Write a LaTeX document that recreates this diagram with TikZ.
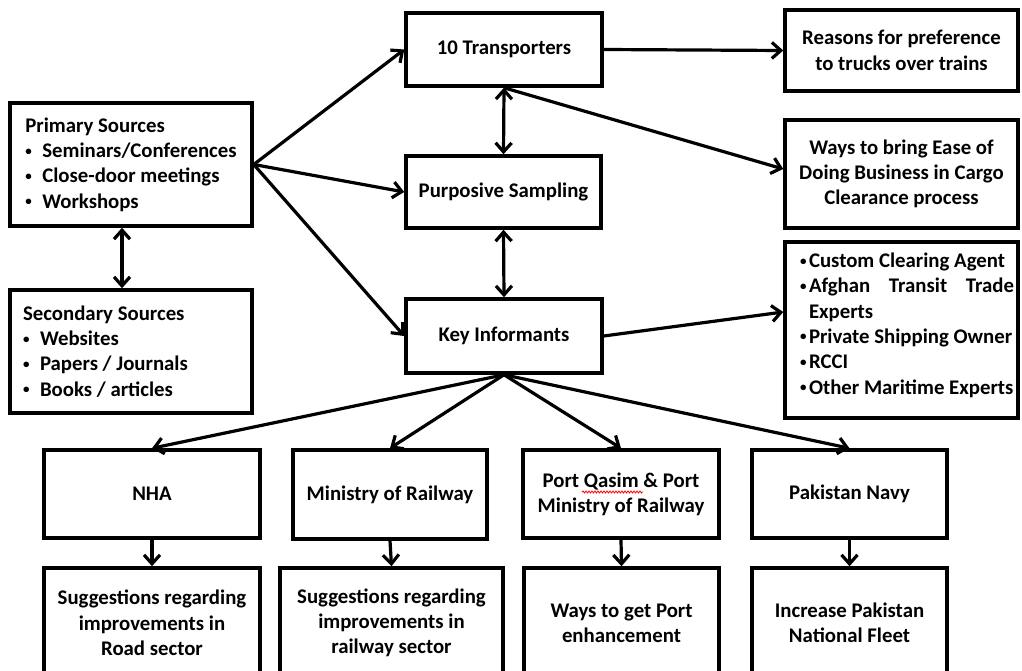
\documentclass[tikz,border=0pt]{standalone}
\usepackage{fontspec}
\setmainfont{Carlito}
\usetikzlibrary{arrows.meta,decorations.pathmorphing}

\newcommand{\dotb}{\raisebox{2.5pt}{\fontsize{13}{13}\selectfont\textbullet}}
\newcommand{\lbul}{\makebox[17pt][l]{\dotb}}
\newcommand{\rbul}{\hspace*{11pt}\makebox[9pt][l]{\dotb}}

\begin{document}
\begin{tikzpicture}[
  x=1pt, y=-1pt,
  font=\fontsize{20.8}{25.3}\selectfont\bfseries,
  box/.style={draw, line width=3.5pt, rectangle, inner sep=0pt, align=center},
  wh/.style 2 args={minimum width=#1pt, minimum height=#2pt},
  arr/.style={line width=3.2pt, -{Straight Barb[length=9pt,width=16pt]}},
  darr/.style={line width=3.2pt, {Straight Barb[length=9pt,width=16pt]}-{Straight Barb[length=9pt,width=16pt]}}
]

\useasboundingbox (0,0) rectangle (1022,671);
\clip (0,0) rectangle (1022,671);

\node [box, wh={242}{123}, align=left] (prim) at (131,164.5)
  {Primary Sources\\\lbul Seminars/Conferences\hspace*{6pt}\\\lbul Close-door meetings\\\lbul Workshops};
\node [box, wh={242}{123}, align=left] (sec) at (131,351.5)
  {Secondary Sources\\\lbul Websites\\\lbul Papers / Journals\\\lbul Books / articles\hspace*{66pt}};

\node [box, wh={196}{73}] (trans) at (504,49.5) {10 Transporters};
\node [box, wh={195}{72}] (purp) at (503.5,192) {Purposive Sampling};
\node [box, wh={196}{74}] (key) at (504,336) {Key Informants};

\node [box, wh={233}{81}] (reas) at (901.5,50.5) {Reasons for preference\\to trucks over trains};
\node [box, wh={233}{108}] (ways) at (901.5,174) {Ways to bring Ease of\\Doing Business in Cargo\\Clearance process};
\node [box, wh={233}{176}, align=left] (bull) at (901.5,330)
  {\rbul Custom Clearing Agent\\\rbul\makebox[205pt][s]{Afghan\hfill Transit\hfill Trade}\\\hspace*{20pt}Experts\\\rbul Private Shipping Owner\\\rbul RCCI\\\rbul Other Maritime Experts\rule[-13pt]{0pt}{13pt}};

\node [box, wh={216}{88}] (nha) at (152,494) {NHA};
\node [box, wh={194}{89}] (mor) at (390,494.5) {Ministry of Railway};
\node [box, wh={196}{88}] (port) at (621,494) {Port Qasim \& Port\\Ministry of Railway};
\node [box, wh={195}{88}] (navy) at (849.5,494) {Pakistan Navy};

\node [box, wh={216}{110}] (sug1) at (152,623) {Suggestions regarding\\improvements in\\Road sector};
\node [box, wh={223}{110}] (sug2) at (391.5,623) {Suggestions regarding\\improvements in\\railway sector};
\node [box, wh={195}{110}] (wport) at (621.5,623) {Ways to get Port\\enhancement};
\node [box, wh={195}{110}] (fleet) at (849.5,623) {Increase Pakistan\\National Fleet};

\draw [red, line width=0.8pt, decorate, decoration={snake, amplitude=1pt, segment length=3pt}] (582,492) -- (643,492);

\draw [arr] (prim.east) -- (trans.west);
\draw [arr] (prim.east) -- (purp.west);
\draw [arr] (prim.east) -- (key.west);
\draw [darr] ([xshift=-9pt]prim.south) -- ([xshift=-9pt]sec.north);
\draw [darr] (trans.south) -- (purp.north);
\draw [darr] (purp.south) -- (key.north);
\draw [arr] (trans.east) -- (reas.west);
\draw [arr] (trans.south) -- ([yshift=5pt]ways.west);
\draw [arr] (key.east) -- ([yshift=18pt]bull.west);
\foreach \n in {nha,mor,port,navy}
  \draw [arr] (key.south) -- (\n.north);
\foreach \a/\b in {nha/sug1,mor/sug2,port/wport,navy/fleet}
  \draw [arr] (\a.south) -- (\b.north);

\end{tikzpicture}
\end{document}
